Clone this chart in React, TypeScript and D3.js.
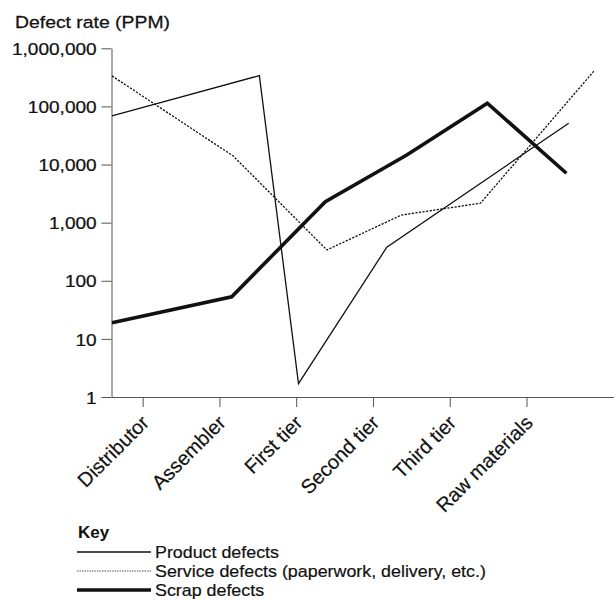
import React, { useEffect, useRef } from "react";
import * as d3 from "d3";

const categories = [
  "Distributor",
  "Assembler",
  "First tier",
  "Second tier",
  "Third tier",
  "Raw materials",
];

const yTicks = [1, 10, 100, 1000, 10000, 100000, 1000000];

// x positions are in category units (0 = Distributor tick)
const productX = [-0.4, 1.52, 2.03, 3.18, 5.55];
const productY = [68600, 339000, 1.7, 378, 51500];

const serviceX = [-0.4, 1.18, 2.4, 3.37, 4.4, 5.88];
const serviceY = [335000, 14000, 339, 1350, 2160, 408000];

const scrapX = [-0.4, 1.16, 2.38, 3.44, 4.49, 5.52];
const scrapY = [19, 53, 2300, 14600, 113500, 7080];

const legendLabels = [
  "Product defects",
  "Service defects (paperwork, delivery, etc.)",
  "Scrap defects",
];

const W = 614;
const H = 601;
const FONT = "'Liberation Sans', Arial, Helvetica, sans-serif";

export default function App() {
  const svgRef = useRef<SVGSVGElement | null>(null);

  useEffect(() => {
    if (!svgRef.current) return;
    const svg = d3.select(svgRef.current);
    svg.selectAll("*").remove();

    const x = d3.scaleLinear().domain([-0.406, 6.14]).range([111.5, 614]);
    const y = d3.scaleLog().domain([1, 1000000]).range([397, 48.3]);

    // title
    svg
      .append("text")
      .attr("transform", "translate(15,28) scale(1.14,1)")
      .attr("font-family", FONT)
      .attr("font-size", 17)
      .attr("fill", "#111")
      .attr("stroke", "#111")
      .attr("stroke-width", 0.25)
      .text("Defect rate (PPM)");

    // y axis
    const yAxis = svg
      .append("g")
      .attr("transform", `translate(${x.range()[0]},0)`)
      .call(
        d3
          .axisLeft(y)
          .tickValues(yTicks)
          .tickFormat((d) => d3.format(",")(d as number))
          .tickSize(10)
          .tickSizeOuter(0)
          .tickPadding(2)
      );
    yAxis.select(".domain").attr("stroke", "#555");
    yAxis.selectAll(".tick line").attr("stroke", "#555");
    yAxis
      .selectAll(".tick text")
      .attr("font-family", FONT)
      .attr("font-size", 17)
      .attr("fill", "#111")
      .attr("stroke", "#111")
      .attr("stroke-width", 0.25)
      .attr("dy", "0.36em")
      .attr("transform", function () {
        const xx = +(d3.select(this).attr("x") || 0);
        return `translate(${xx * 0.12},0) scale(1.12,1)`;
      });

    // x axis
    const xAxis = svg
      .append("g")
      .attr("transform", `translate(0,${y(1)})`)
      .call(
        d3
          .axisBottom(x)
          .tickValues(d3.range(categories.length))
          .tickFormat((d) => categories[d as number])
          .tickSize(10)
          .tickSizeOuter(0)
      );
    xAxis.select(".domain").attr("stroke", "#555");
    xAxis.selectAll(".tick line").attr("stroke", "#555");
    xAxis
      .selectAll(".tick text")
      .attr("font-family", FONT)
      .attr("font-size", 20)
      .attr("fill", "#111")
      .attr("stroke", "#111")
      .attr("stroke-width", 0.2)
      .attr("text-anchor", "end")
      .attr("x", 0)
      .attr("y", 0)
      .attr("dy", 0)
      .attr("transform", "translate(7,27) rotate(-45)");

    const line = d3
      .line<[number, number]>()
      .x((d) => x(d[0]))
      .y((d) => y(d[1]));

    const series = [
      { xs: productX, ys: productY, width: 1.3, dash: null as string | null },
      { xs: serviceX, ys: serviceY, width: 1.3, dash: "2.2,1.4" },
      { xs: scrapX, ys: scrapY, width: 3.6, dash: null },
    ];

    series.forEach((s) => {
      const pts = s.xs.map((v, i) => [v, s.ys[i]] as [number, number]);
      svg
        .append("path")
        .attr("d", line(pts)!)
        .attr("fill", "none")
        .attr("stroke", "#111")
        .attr("stroke-width", s.width)
        .attr("stroke-linejoin", "miter")
        .attr("stroke-dasharray", s.dash);
    });

    // legend
    const lg = svg.append("g");
    lg.append("text")
      .attr("x", 78)
      .attr("y", 538)
      .attr("font-family", FONT)
      .attr("font-size", 17)
      .attr("font-weight", "bold")
      .attr("fill", "#111")
      .text("Key");

    const legendStyles = [
      { width: 1.3, dash: null as string | null, color: "#111" },
      { width: 1, dash: "1.5,1", color: "#555" },
      { width: 3.6, dash: null, color: "#111" },
    ];
    legendLabels.forEach((label, i) => {
      const yy = 552 + i * 19;
      lg.append("line")
        .attr("x1", 77)
        .attr("x2", 151)
        .attr("y1", yy)
        .attr("y2", yy)
        .attr("stroke", legendStyles[i].color)
        .attr("stroke-width", legendStyles[i].width)
        .attr("stroke-dasharray", legendStyles[i].dash);
      lg.append("text")
        .attr("transform", `translate(155,${yy + 6}) scale(1.05,1)`)
        .attr("font-family", FONT)
        .attr("font-size", 17)
        .attr("fill", "#111")
        .attr("stroke", "#111")
        .attr("stroke-width", 0.2)
        .text(label);
    });
  }, []);

  return (
    <svg
      ref={svgRef}
      width={W}
      height={H}
      style={{ position: "absolute", left: 0, top: 0, background: "#fff" }}
    />
  );
}
